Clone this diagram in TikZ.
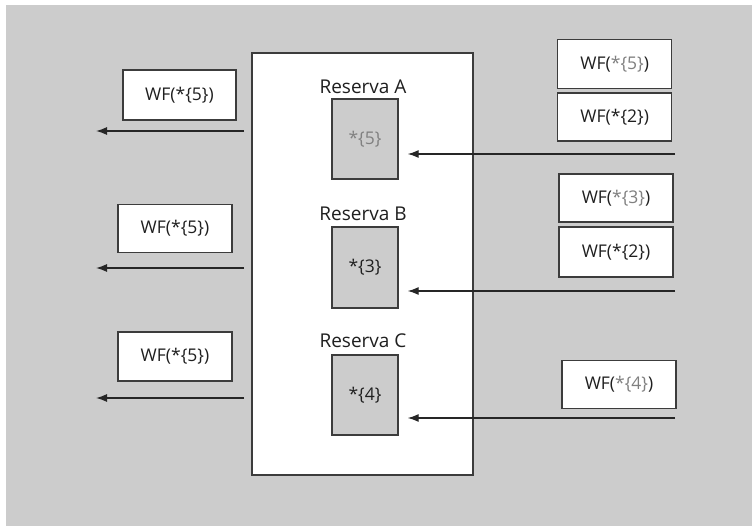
\documentclass[tikz,border=0pt]{standalone}
\usepackage{fontspec}
\setmainfont{Open Sans}
\usetikzlibrary{arrows.meta}
\definecolor{bg}{HTML}{CCCCCC}
\definecolor{edge}{HTML}{3C3C3C}
\definecolor{soft}{HTML}{808080}
\tikzset{
  wfbox/.style={draw=edge, line width=1.3pt, fill=white, minimum width=114pt, minimum height=49pt, inner sep=0pt, font=\fontsize{17.5}{20}\selectfont, text=black!88},
  resbox/.style={draw=edge, line width=1.3pt, fill=bg, minimum width=66pt, minimum height=80pt, inner sep=0pt, font=\fontsize{17.5}{20}\selectfont, text=black!88},
  lbl/.style={inner sep=0pt, font=\fontsize{19}{21}\selectfont, text=black!88},
  arr/.style={draw=black!85, line width=1.3pt, -{Latex[length=11pt,width=8pt]}},
}
\newcommand{\gr}[1]{\textcolor{soft}{#1}}
\begin{document}
\begin{tikzpicture}[x=1pt,y=-1pt]
\useasboundingbox (0,0) rectangle (752,526);
\fill[white] (0,0) rectangle (752,526);
\fill[bg] (6,5) rectangle (752,526);
% big box
\node[draw=edge, line width=1.6pt, fill=white, minimum width=221pt, minimum height=422pt, inner sep=0pt] (main) at (362.5,264) {};
% reserves
\node[resbox] (resA) at (365,139) {\gr{*\{5\}}};
\node[resbox, minimum height=81pt] (resB) at (365,267.5) {*\{3\}};
\node[resbox] (resC) at (365,395) {*\{4\}};
\node[lbl] (labA) at (363,87) {Reserva A};
\node[lbl] (labB) at (363,214) {Reserva B};
\node[lbl] (labC) at (363,341) {Reserva C};
% left boxes
\node[wfbox, minimum width=113pt, minimum height=50pt] (L1) at (179.5,95) {WF(*\{5\})};
\node[wfbox, minimum height=48pt] (L2) at (175,228.7) {WF(*\{5\})};
\node[wfbox] (L3) at (175,356.5) {WF(*\{5\})};
\coordinate (o1s) at (244,131); \coordinate (o1e) at (96,131);
\coordinate (o2s) at (244,268); \coordinate (o2e) at (96,268);
\coordinate (o3s) at (244,398); \coordinate (o3e) at (96,398);
\draw[arr] (o1s) -- (o1e);
\draw[arr] (o2s) -- (o2e);
\draw[arr] (o3s) -- (o3e);
% right boxes
\node[wfbox] (R1) at (614.7,64) {WF(\gr{*\{5\}})};
\node[wfbox, minimum height=48pt] (R2) at (614.7,117) {WF(*\{2\})};
\node[wfbox, minimum height=48pt] (R3) at (616,198) {WF(\gr{*\{3\}})};
\node[wfbox, minimum height=50pt] (R4) at (616,252) {WF(*\{2\})};
\node[wfbox, minimum height=48pt] (R5) at (619,384.5) {WF(\gr{*\{4\}})};
\coordinate (i1) at (675,154);
\coordinate (i2) at (675,291);
\coordinate (i3) at (675,418);
\draw[arr] (i1) -- ([xshift=9pt]resA.east |- i1);
\draw[arr] (i2) -- ([xshift=9pt]resB.east |- i2);
\draw[arr] (i3) -- ([xshift=9pt]resC.east |- i3);
\end{tikzpicture}
\end{document}
